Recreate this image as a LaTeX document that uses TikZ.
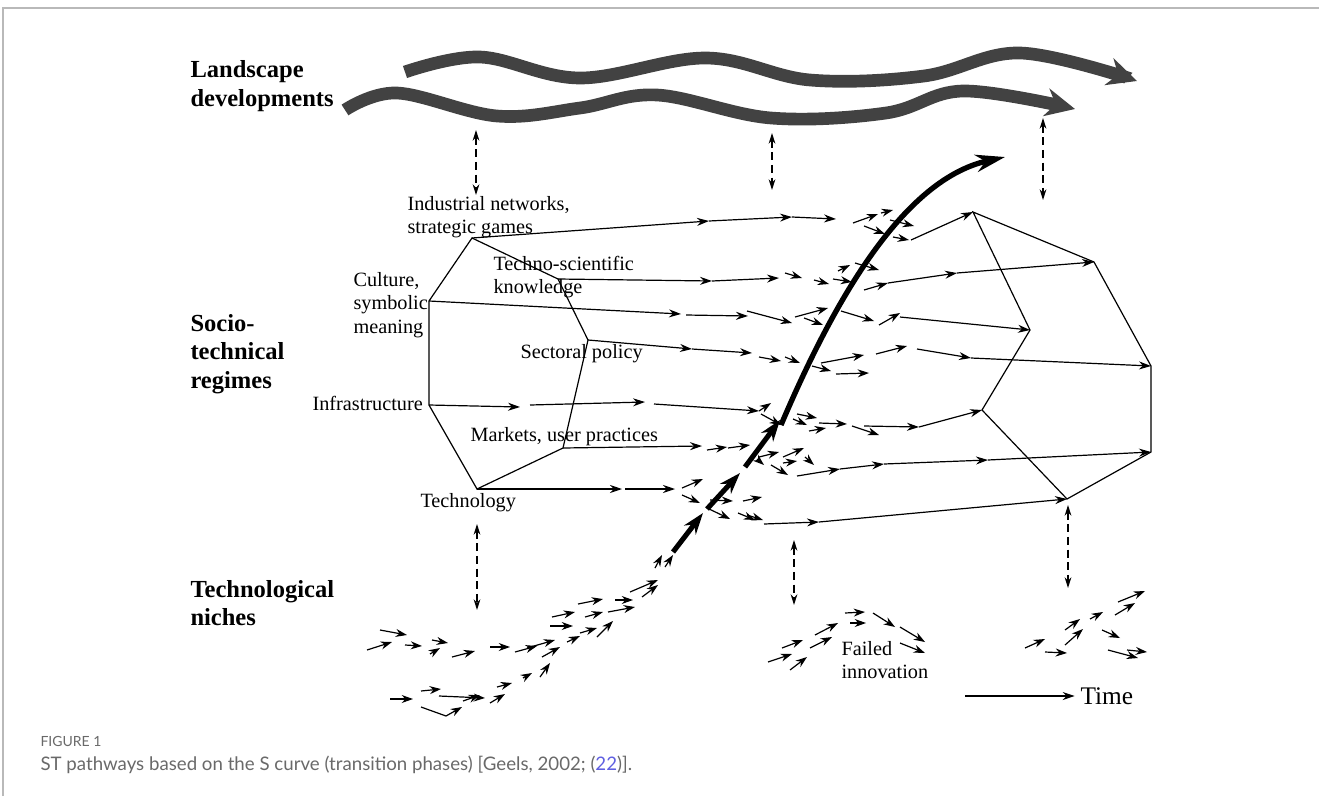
\documentclass[tikz,border=0pt]{standalone}
\usepackage{fontspec}
\setmainfont{Liberation Serif}
\newfontfamily\capfont{Lato}
\usetikzlibrary{arrows.meta}

\definecolor{framegray}{RGB}{185,185,185}
\definecolor{capgray}{RGB}{105,105,105}
\definecolor{refblue}{RGB}{95,95,225}
\definecolor{bandgray}{RGB}{66,66,66}

\tikzset{every picture/.style={line width=0.75pt}}
\tikzset{
  lbl/.style={inner sep=0pt, align=left, anchor=west, font=\fontsize{15.2}{17.5}\selectfont},
  headlbl/.style={inner sep=0pt, align=left, anchor=west, font=\fontsize{18.4}{21.5}\selectfont\bfseries},
  edge/.style={line width=0.9pt},
  flow/.style={line width=0.9pt, -{Stealth[length=9pt,width=6pt]}},
  tiny/.style={line width=0.9pt, -{Stealth[length=8.5pt,width=6pt]}},
  fat/.style={line width=3.8pt, -{Stealth[length=16pt,width=11pt]}},
  link/.style={line width=0.9pt, dash pattern=on 6pt off 3.5pt, {Stealth[length=8pt,width=5pt]}-{Stealth[length=8pt,width=5pt]}},
  band/.style={line width=9.5pt, color=bandgray, -{Stealth[length=22pt,width=21pt]}},
}

\begin{document}
\begin{tikzpicture}[x=0.75pt,y=0.75pt,yscale=-1,xscale=1]
\useasboundingbox (0,0) rectangle (1319,796);

%Frame
\draw [color=framegray, line width=1.2pt] (3,796) -- (3,8) -- (1319,8);

%Landscape bands
\draw [band] plot [smooth, tension=0.6] coordinates {(405,72) (480,57) (580,78) (706,58) (810,80) (924,76) (1020,53) (1137,81)};
\draw [band] plot [smooth, tension=0.6] coordinates {(345,110) (397,93) (497,116) (580,108) (657,95) (771,118) (886,113) (963,91) (1075,109)};

%Regime, left end
\coordinate (ind) at (472,238);
\coordinate (tec) at (558,279);
\coordinate (sec) at (588,340);
\coordinate (mkt) at (563,448);
\coordinate (tch) at (477,489);
\coordinate (inf) at (429,405);
\coordinate (cul) at (429,301);
\draw [edge] (ind) -- (tec) -- (sec) -- (mkt) -- (tch) -- (inf) -- (cul) -- cycle;

%Regime, right end
\coordinate (rA) at (973,212);
\coordinate (rB) at (1094,262);
\coordinate (rC) at (1030,330);
\coordinate (rD) at (1151,366);
\coordinate (rE) at (982,410);
\coordinate (rH) at (1151,452);
\coordinate (rG) at (1067,499);
\draw [edge] (rA) -- (rB) -- (rD) -- (rH) -- (rG) -- (rE) -- (rC) -- cycle;

%Industrial networks
\draw [flow] (ind) -- (709,221);
\draw [flow] (709,221) -- (792,217);
\draw [flow] (792,217) -- (836,219);
\foreach \a/\b/\c/\d in {853/223/878/214, 881/213/893/210, 864/226/885/234, 890/220/914/226, 893/237/909/240}
  \draw [tiny] (\a,\b) -- (\c,\d);
\draw [flow] (911,240) -- (rA);

%Techno-scientific knowledge
\draw [flow] (tec) -- (712,281);
\draw [flow] (712,281) -- (779,278);
\foreach \a/\b/\c/\d in {785/273/802/278, 814/280/829/284, 838/271/850/265, 833/279/852/282, 855/263/879/270}
  \draw [tiny] (\a,\b) -- (\c,\d);
\draw [flow] (864,290) -- (888,283);
\draw [flow] (888,283) -- (957,273);
\draw [flow] (957,273) -- (rB);

%Culture, symbolic meaning
\draw [flow] (cul) -- (681,314);
\draw [flow] (686,315) -- (748,316);
\foreach \a/\b/\c/\d in {747/311/792/323, 795/317/828/308, 804/318/823/325, 841/311/874/321, 879/325/900/313}
  \draw [tiny] (\a,\b) -- (\c,\d);
\draw [flow] (900,317) -- (rC);

%Sectoral policy
\draw [flow] (sec) -- (692,349);
\draw [flow] (692,349) -- (752,353);
\foreach \a/\b/\c/\d in {759/357/781/361, 785/357/800/363, 821/363/864/355, 812/366/831/371, 836/374/869/373, 876/354/907/346}
  \draw [tiny] (\a,\b) -- (\c,\d);
\draw [flow] (917,349) -- (971,358);
\draw [flow] (971,358) -- (rD);

%Infrastructure
\draw [flow] (inf) -- (520,407);
\draw [flow] (530,405) -- (645,402);
\draw [flow] (654,404) -- (759,411);
\foreach \a/\b/\c/\d in {759/411/771/403, 761/414/781/425, 797/414/817/418, 793/419/807/425, 809/431/826/428, 819/423/847/424, 852/426/879/435}
  \draw [tiny] (\a,\b) -- (\c,\d);
\draw [flow] (864,426) -- (919,427);
\draw [flow] (919,427) -- (rE);

%Markets, user practices
\draw [flow] (mkt) -- (702,446);
\foreach \a/\b/\c/\d in {707/450/727/447, 728/448/750/445, 759/457/779/452, 783/457/804/448, 783/463/797/461, 805/457/814/465, 771/465/788/475, 757/459/764/465}
  \draw [tiny] (\a,\b) -- (\c,\d);
\draw [flow] (797,476) -- (840,469);
\draw [flow] (840,469) -- (884,464);
\draw [flow] (884,464) -- (988,460);
\draw [flow] (988,460) -- (rH);

%Technology
\draw [flow] (tch) -- (622,489);
\draw [flow] (625,489) -- (675,489);
\foreach \a/\b/\c/\d in {682/488/703/479, 682/495/700/503, 710/500/733/501, 743/501/762/497, 707/508/730/519, 738/513/755/520, 747/515/763/520}
  \draw [tiny] (\a,\b) -- (\c,\d);
\draw [flow] (764,524) -- (819,522);
\draw [flow] (819,522) -- (rG);

%S curve
\draw [fat] (673,552) -- (703,513);
\draw [fat] (707,509) -- (740,473);
\draw [fat] (745,467) -- (780,420);
\draw [line width=4pt, -{Stealth[length=22pt,width=13pt]}] (781,425) .. controls (830,310) and (900,180) .. (1005,157);

%Niche arrows
\foreach \a/\b/\c/\d in {367/650/392/642, 380/630/407/635, 405/645/422/646, 432/640/448/643, 430/654/440/648,
  452/657/475/651, 490/647/510/647, 515/652/537/646, 527/648/555/640, 542/657/560/647,
  552/617/575/612, 550/626/573/626, 567/642/580/636, 578/604/603/599, 585/617/603/612,
  580/633/597/628, 597/637/613/621, 608/612/635/607, 615/600/633/600, 630/592/658/580,
  642/597/658/585, 540/677/550/663, 523/678/532/673, 655/568/662/555, 665/567/673/555,
  390/699/413/699, 421/691/441/689, 439/696/485/698, 446/716/462/707, 463/701/480/695,
  490/703/505/694, 497/687/512/683}
  \draw [tiny] (\a,\b) -- (\c,\d);
\draw [line width=0.9pt] (421,707) -- (446,716);

%Failed innovation
\foreach \a/\b/\c/\d in {768/662/792/654, 790/670/807/657, 782/648/803/640, 810/648/832/637, 815/635/838/623,
  845/613/865/612, 850/623/866/623, 873/613/895/627, 900/627/925/642, 900/643/925/653}
  \draw [tiny] (\a,\b) -- (\c,\d);

%Right niche
\foreach \a/\b/\c/\d in {1025/648/1045/639, 1045/652/1067/653, 1065/645/1083/629, 1065/630/1080/619, 1090/619/1103/612,
  1115/615/1135/603, 1118/602/1145/591, 1102/630/1120/638, 1108/650/1138/658, 1127/650/1147/652}
  \draw [tiny] (\a,\b) -- (\c,\d);

%Dashed links
\draw [link] (476,130) -- (476,195);
\draw [link] (772,133) -- (772,190);
\draw [link] (1043,118) -- (1043,200);
\draw [link] (477,524) -- (477,610);
\draw [link] (794,540) -- (794,605);
\draw [link] (1068,505) -- (1068,588);

%Time
\coordinate (t0) at (965,696);
\node [inner sep=0pt, anchor=west, font=\fontsize{19}{21}\selectfont] (time) at (1080,696) {Time};
\draw [flow] (t0) -- ([xshift=-4pt]time.west);

% Text Nodes
\node [headlbl] (land) at (190,86) {Landscape\\developments};
\node [headlbl] (regime) at (190,354) {Socio-\\technical\\regimes};
\node [headlbl] (niche) at (190,603) {Technological\\niches};
\node [lbl] (tind) at (407,217) {Industrial networks,\\strategic games};
\node [lbl] (ttec) at (493,277) {Techno-scientific\\knowledge};
\node [lbl] (tcul) at (353,305) {Culture,\\symbolic\\meaning};
\node [lbl] (tsec) at (520,354) {Sectoral policy};
\node [lbl] (tinf) at (312,403) {Infrastructure};
\node [lbl] (tmkt) at (470,437) {Markets, user practices};
\node [lbl] (ttch) at (420,503) {Technology};
\node [lbl] (tfail) at (841,660) {Failed\\innovation};

% Caption
\node [inner sep=0pt, anchor=west, text=capgray, font=\capfont\fontsize{10.5}{12}\selectfont] (figno) at (40,741) {FIGURE 1};
\node [inner sep=0pt, anchor=west, text=capgray, font=\capfont\fontsize{14}{16}\selectfont] (cap) at (40,765) {ST pathways based on the S curve (transition phases) [Geels, 2002; (\textcolor{refblue}{22})].};

\end{tikzpicture}
\end{document}
